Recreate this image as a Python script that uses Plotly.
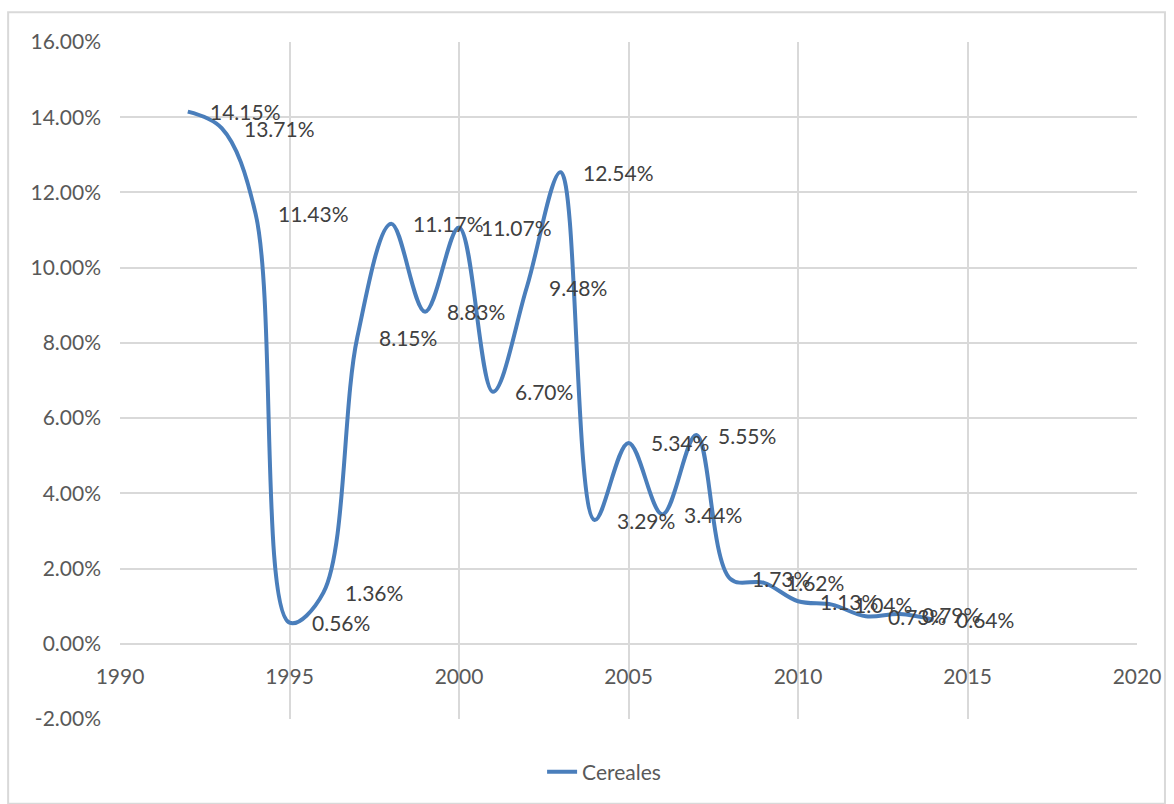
import plotly.graph_objects as go

# Annual growth of cereal production (%)
years = list(range(1992, 2015))
cereales = [14.15, 13.71, 11.43, 0.56, 1.36, 8.15, 11.17, 8.83, 11.07, 6.70, 9.48,
            12.54, 3.29, 5.34, 3.44, 5.55, 1.73, 1.62, 1.13, 1.04, 0.73, 0.79, 0.64]

y_ticks = [-2, 0, 2, 4, 6, 8, 10, 12, 14, 16]
x_ticks = [1990, 1995, 2000, 2005, 2010, 2015, 2020]

LINE = "#4a7ebb"
GRID = "#d9d9d9"
FONT = "Lato"
Y_MIN, Y_MAX = -2, 16

fig = go.Figure()
fig.add_trace(go.Scatter(
    x=years, y=cereales, mode="lines", name="Cereales",
    line=dict(color=LINE, width=4, shape="spline", smoothing=1.0),
    hoverinfo="x+y",
))

# value labels to the right of each point
for x, v in zip(years, cereales):
    fig.add_annotation(
        x=x, y=v, text=f"{v:.2f}%", showarrow=False,
        xanchor="left", yanchor="middle", xshift=20,
        font=dict(family=FONT, size=21, color="#404040"),
    )

# outer chart frame
fig.add_shape(type="rect", xref="paper", yref="paper",
              x0=-0.110, x1=1.0275, y0=-0.125, y1=1.044,
              line=dict(color="#d9d9d9", width=2), layer="below")

fig.update_layout(
    width=1174, height=804,
    margin=dict(l=120, r=37, t=42, b=84),
    paper_bgcolor="white", plot_bgcolor="white",
    font=dict(family=FONT, size=21, color="#595959"),
    showlegend=True,
    legend=dict(orientation="h", x=0.476, y=-0.077, xanchor="center", yanchor="middle",
                font=dict(family=FONT, size=21, color="#595959"),
                bgcolor="rgba(0,0,0,0)"),
    xaxis=dict(
        range=[1990, 2020], tickvals=x_ticks, ticktext=[str(t) for t in x_ticks],
        showgrid=True, gridcolor=GRID, gridwidth=2,
        zeroline=False, showline=True, linecolor=GRID, linewidth=2,
        anchor="free", position=(0 - Y_MIN) / (Y_MAX - Y_MIN),
        ticks="", ticklabelstandoff=14,
    ),
    yaxis=dict(
        range=[Y_MIN, Y_MAX], tickvals=y_ticks,
        ticktext=[f"{t:.2f}%" for t in y_ticks],
        showgrid=True, gridcolor=GRID, gridwidth=2,
        zeroline=False, showline=False,
        ticks="", ticklabelstandoff=18,
    ),
)

fig.write_html("out.html")
